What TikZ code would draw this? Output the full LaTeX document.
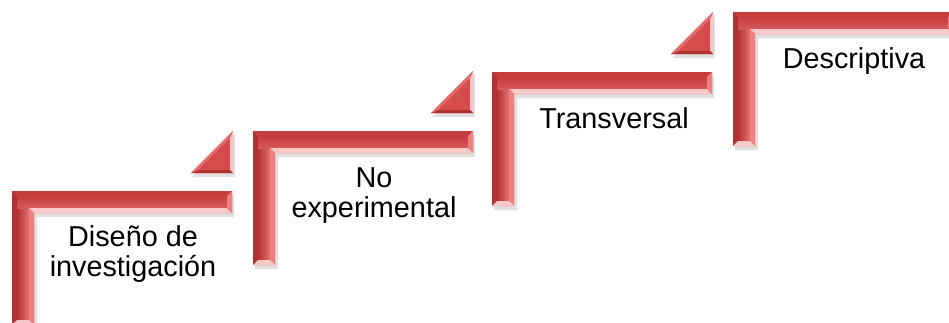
\documentclass[tikz,border=0pt]{standalone}
\usepackage{fontspec}
\setmainfont{Liberation Sans}
\definecolor{rbase}{RGB}{212,76,76}
\definecolor{rdark}{RGB}{196,60,60}
\definecolor{rdarkL}{RGB}{178,50,50}
\definecolor{rlight}{RGB}{238,128,128}
\definecolor{rhi}{RGB}{250,200,200}
\tikzset{
  stair/.pic={
    \fill[black,opacity=.12] (2,4) -- (222,4) -- (222,26) -- (25,26) -- (25,138) -- (2,138) -- cycle;
    \fill[rbase] (0,0) -- (220,0) -- (220,22) -- (22,22) -- (22,134) -- (0,134) -- cycle;
    \shade[left color=rdarkL,right color=rlight!70!rbase] (5,17) rectangle (17,129);
    \shade[top color=rdark,bottom color=rbase!92!white] (5,5) rectangle (215,17);
    \fill[rdark] (0,0) -- (220,0) -- (215,5) -- (5,5) -- cycle;
    \fill[rdarkL] (0,0) -- (5,5) -- (5,129) -- (0,134) -- cycle;
    \fill[rhi] (17,17) -- (215,17) -- (220,22) -- (22,22) -- cycle;
    \fill[rlight] (17,17) -- (22,22) -- (22,134) -- (17,129) -- cycle;
    \fill[rlight] (220,0) -- (220,22) -- (215,17) -- (215,5) -- cycle;
    \fill[rhi] (0,134) -- (22,134) -- (17,129) -- (5,129) -- cycle;
  },
  tri/.pic={
    \fill[black,opacity=.12] (2,3) -- (2,46) -- (-41,46) -- cycle;
    \fill[rbase] (0,0) -- (0,42) -- (-42,42) -- cycle;
    \fill[rhi] (0,0) -- (0,42) -- (-3,39) -- (-3,7.24) -- cycle;
    \fill[rdarkL] (0,42) -- (-42,42) -- (-34.76,39) -- (-3,39) -- cycle;
    \fill[rlight!60!rbase] (0,0) -- (-3,7.24) -- (-34.76,39) -- (-42,42) -- cycle;
  },
  lbl/.style={inner sep=0pt,anchor=base,text=black,
    font=\fontsize{28.8}{30.5}\selectfont}
}
\begin{document}
\begin{tikzpicture}[x=1pt,y=-1pt]
\useasboundingbox[fill=white] (0,0) rectangle (949,322);
% triangles
\pic at (233,131) {tri};
\pic at (473,71) {tri};
\pic at (713,12) {tri};
% steps
\pic at (12,191) {stair};
\pic at (253,131) {stair};
\pic at (492,72) {stair};
\pic at (733,12) {stair};
% labels
\node[lbl] (t1) at (133,246) {\begin{tabular}[t]{@{}c@{}}Diseño de\\investigación\end{tabular}};
\node[lbl] (t2) at (374,187) {\begin{tabular}[t]{@{}c@{}}No\\experimental\end{tabular}};
\node[lbl] (t3) at (614,128) {Transversal};
\node[lbl] (t4) at (854,68) {Descriptiva};
\end{tikzpicture}
\end{document}
